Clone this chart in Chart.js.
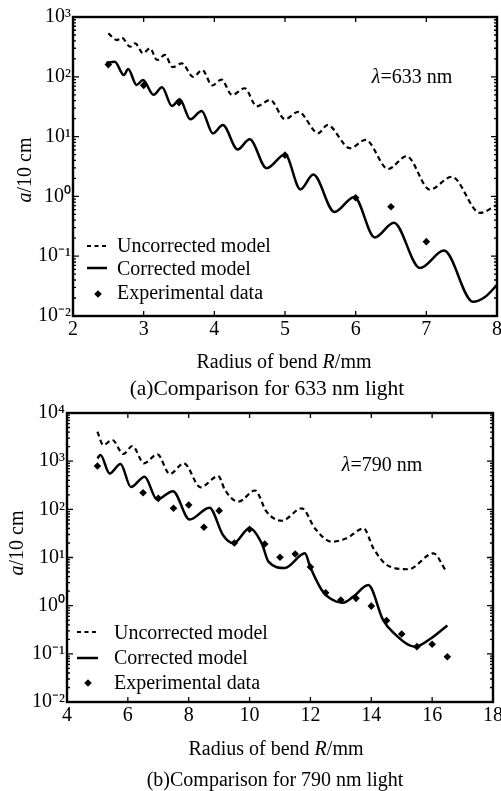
<!DOCTYPE html>
<html><head><meta charset="utf-8">
<script src="https://cdn.jsdelivr.net/npm/chart.js@4/dist/chart.umd.min.js"></script>
<style>
html,body{margin:0;padding:0;background:#fff;}
#wrap{position:relative;width:501px;height:791px;overflow:hidden;}
.box{position:absolute;left:0;width:501px;}
canvas{display:block;}
</style></head><body>
<div id="wrap">
<div class="box" style="top:0;height:400px"><canvas id="ca" width="501" height="400"></canvas></div>
<div class="box" style="top:400px;height:391px"><canvas id="cb" width="501" height="391"></canvas></div>
</div>
<script>
// ---------- Data: (a) 633 nm ----------
const aUncorrR = [2.50,2.62,2.69,2.81,2.88,2.99,3.09,3.19,3.30,3.41,3.54,3.70,3.83,3.97,4.10,4.25,4.43,4.60,4.79,5.00,5.19,5.47,5.60,5.92,6.14,6.46,6.72,7.05,7.36,7.76,8.00];
const aUncorrV = [533,412,451,318,363,247,300,191,232,145,168,100,130,71.6,90,49.7,64.3,32.1,41,19.5,26,11.4,15.6,6.4,8.8,2.87,4.7,1.30,2.13,0.53,0.72];
const aCorrR = [2.47,2.59,2.72,2.78,2.90,2.99,3.14,3.26,3.40,3.51,3.66,3.82,3.98,4.12,4.33,4.50,4.74,5.00,5.22,5.40,5.70,5.98,6.27,6.54,6.91,7.25,7.66,7.83,8.00];
const aCorrV = [170,179,107,135,73,88,50,67,32.5,42,19.5,26.8,11.3,15.6,6.1,9.0,2.95,5.0,1.31,2.32,0.55,0.98,0.206,0.363,0.0635,0.124,0.0173,0.0208,0.033];
const aExpR = [2.5,3.0,3.5,5.0,6.0,6.5,7.0];
const aExpV = [160,72,37,4.9,0.95,0.67,0.175];
const aXTicks = [2,3,4,5,6,7,8];
const aYTicks = [0.01,0.1,1,10,100,1000];

// ---------- Data: (b) 790 nm ----------
const bUncorrR = [5.00,5.19,5.49,5.85,6.15,6.53,6.97,7.38,7.84,8.39,8.97,9.19,9.63,10.18,10.56,11.06,11.72,12.15,12.70,13.19,13.75,14.07,14.56,15.22,16.04,16.45];
const bUncorrV = [4090,2166,2754,1410,2065,904,1390,542,904,287,492,252,144,246,89,58,105,40,21.3,25,40,15.5,6.7,5.7,12.2,5.3];
const bCorrR = [5.00,5.10,5.40,5.76,6.10,6.55,6.96,7.48,8.03,8.68,9.13,9.47,10.00,10.41,10.62,11.16,11.82,11.99,12.37,12.64,13.07,13.41,13.90,14.39,14.72,15.45,15.98,16.50];
const bCorrV = [1148,1343,555,874,291,476,160,238,61.5,108,29,19.7,40.4,19,8.2,6.05,12.2,6.4,2.12,1.42,1.15,1.54,2.69,0.50,0.277,0.141,0.213,0.388];
const bExpR = [5,6.5,7,7.5,8,8.5,9,9.5,10,10.5,11,11.5,12,12.5,13,13.5,14,14.5,15,15.5,16,16.5];
const bExpV = [794,221,169,105,123,42.4,94,20,38.5,19,10.1,11.8,6.35,1.86,1.31,1.42,0.98,0.49,0.258,0.141,0.158,0.087];
const bXTicks = [4,6,8,10,12,14,16,18];
const bYTicks = [0.01,0.1,1,10,100,1000,10000];

const seriesNames = ['Uncorrected model','Corrected model','Experimental data'];

// ---------- helpers ----------
const FONT = '"Liberation Serif", "Times New Roman", serif';
const SUP = {'-':'\u207B','0':'\u2070','1':'\u00B9','2':'\u00B2','3':'\u00B3','4':'\u2074','5':'\u2075'};
function powLabel(v){
  const e = Math.log10(v), r = Math.round(e);
  if (Math.abs(e - r) > 1e-6) return '';
  return '10' + String(r).split('').map(c => SUP[c]).join('');
}
const zip = (xs, ys) => xs.map((x, i) => ({x: x, y: ys[i]}));

function framePlugin(){
  return {
    id: 'frame',
    afterDraw(chart){
      const {ctx, chartArea: a, scales: {x, y}} = chart;
      ctx.save();
      ctx.strokeStyle = '#000';
      ctx.lineWidth = 1.3;
      ctx.beginPath();
      const e0 = Math.floor(Math.log10(y.min)), e1 = Math.ceil(Math.log10(y.max));
      for (let e = e0; e <= e1; e++){
        for (let k = 1; k <= 9; k++){
          const v = k * Math.pow(10, e);
          if (v < y.min * 0.999 || v > y.max * 1.001) continue;
          const p = y.getPixelForValue(v);
          const L = k === 1 ? 6 : 3;
          ctx.moveTo(a.left, p); ctx.lineTo(a.left + L, p);
          ctx.moveTo(a.right, p); ctx.lineTo(a.right - L, p);
        }
      }
      x.ticks.forEach(t => {
        const p = x.getPixelForValue(t.value);
        ctx.moveTo(p, a.bottom); ctx.lineTo(p, a.bottom - 5);
        ctx.moveTo(p, a.top); ctx.lineTo(p, a.top + 5);
      });
      ctx.stroke();
      ctx.lineWidth = 2.4;
      ctx.strokeRect(a.left, a.top, a.right - a.left, a.bottom - a.top);
      ctx.restore();
    }
  };
}

function textPlugin(items){
  return {
    id: 'richText',
    afterDraw(chart){
      const ctx = chart.ctx;
      items.forEach(it => {
        ctx.save();
        ctx.translate(it.x, it.y);
        if (it.rot) ctx.rotate(it.rot);
        ctx.fillStyle = '#000';
        ctx.textBaseline = 'alphabetic';
        ctx.textAlign = 'left';
        const segs = it.segs.map(s => ({t: s[0], f: (s[1] ? 'italic ' : '') + it.size + 'px ' + FONT}));
        let w = 0;
        segs.forEach(s => { ctx.font = s.f; s.w = ctx.measureText(s.t).width; w += s.w; });
        let xx = -w / 2;
        segs.forEach(s => { ctx.font = s.f; ctx.fillText(s.t, xx, 0); xx += s.w; });
        ctx.restore();
      });
    }
  };
}

function legendPlugin(cfg){
  return {
    id: 'innerLegend',
    afterDraw(chart){
      const ctx = chart.ctx;
      const ds = chart.data.datasets;
      ctx.save();
      ctx.fillStyle = '#000'; ctx.strokeStyle = '#000';
      ctx.font = '20px ' + FONT;
      ctx.textBaseline = 'middle'; ctx.textAlign = 'left';
      ds.forEach((d, i) => {
        const ly = cfg.lineY[i];
        if (d.showLine){
          ctx.beginPath();
          ctx.lineWidth = d.borderWidth;
          ctx.setLineDash(d.borderDash && d.borderDash.length ? [4, 3.5] : []);
          ctx.moveTo(cfg.x0, ly); ctx.lineTo(cfg.x1, ly);
          ctx.stroke();
          ctx.setLineDash([]);
        } else {
          const r = d.pointRadius;
          ctx.beginPath();
          ctx.moveTo(cfg.mx, ly - r); ctx.lineTo(cfg.mx + r, ly);
          ctx.lineTo(cfg.mx, ly + r); ctx.lineTo(cfg.mx - r, ly);
          ctx.closePath(); ctx.fill();
        }
        ctx.fillText(d.label, cfg.tx, cfg.textY[i]);
      });
      ctx.restore();
    }
  };
}

function makeChart(canvasId, o){
  const W = o.W, H = o.H, A = o.area;
  const datasets = [
    {label: seriesNames[0], data: zip(o.uR, o.uV), showLine: true, borderColor: '#000', borderWidth: 2.2,
     borderDash: [5, 3.5], pointRadius: 0, tension: 0.4, cubicInterpolationMode: 'monotone', fill: false},
    {label: seriesNames[1], data: zip(o.cR, o.cV), showLine: true, borderColor: '#000', borderWidth: 2.5,
     pointRadius: 0, tension: 0.4, cubicInterpolationMode: 'monotone', fill: false},
    {label: seriesNames[2], data: zip(o.eR, o.eV), showLine: false, pointStyle: 'rectRot',
     pointRadius: 3.8, backgroundColor: '#000', borderColor: '#000', borderWidth: 0}
  ];
  return new Chart(document.getElementById(canvasId), {
    type: 'scatter',
    data: {datasets},
    options: {
      responsive: false, animation: false, events: [],
      layout: {padding: {left: 0, top: A.top, right: W - A.right, bottom: 0}},
      plugins: {legend: {display: false}, tooltip: {enabled: false}},
      scales: {
        x: {
          type: 'linear', min: o.xTicks[0], max: o.xTicks[o.xTicks.length - 1],
          grid: {display: false, drawTicks: false, tickLength: 0},
          border: {display: false},
          afterBuildTicks: s => { s.ticks = o.xTicks.map(v => ({value: v})); },
          afterFit: s => { s.height = H - A.bottom; s.paddingLeft = 0; s.paddingRight = 0; },
          ticks: {autoSkip: false, maxRotation: 0, padding: 2, color: '#000',
                  font: {family: FONT, size: 20}, callback: v => String(v)}
        },
        y: {
          type: 'logarithmic', min: o.yTicks[0], max: o.yTicks[o.yTicks.length - 1],
          grid: {display: false, drawTicks: false, tickLength: 0},
          border: {display: false},
          afterBuildTicks: s => { s.ticks = o.yTicks.map(v => ({value: v, major: true})); },
          afterFit: s => { s.width = A.left; s.paddingTop = 0; s.paddingBottom = 0; },
          ticks: {autoSkip: false, padding: 2, color: '#000',
                  font: {family: FONT, size: 20}, callback: v => powLabel(v)}
        }
      }
    },
    plugins: [framePlugin(), legendPlugin(o.legend), textPlugin(o.texts)]
  });
}

makeChart('ca', {
  W: 501, H: 400, area: {left: 73, top: 17, right: 497, bottom: 316},
  uR: aUncorrR, uV: aUncorrV, cR: aCorrR, cV: aCorrV, eR: aExpR, eV: aExpV,
  xTicks: aXTicks, yTicks: aYTicks,
  legend: {x0: 87, x1: 107, mx: 98, tx: 117, lineY: [246, 268, 294], textY: [247, 270, 294]},
  texts: [
    {segs: [['\u03BB', true], ['=633 nm', false]], x: 412, y: 83, size: 20},
    {segs: [['Radius of bend ', false], ['R', true], ['/mm', false]], x: 284, y: 368, size: 20},
    {segs: [['(a)Comparison for 633 nm light', false]], x: 267, y: 395, size: 21.5},
    {segs: [['a', true], ['/10 cm', false]], x: 31, y: 170, size: 20, rot: -Math.PI / 2}
  ]
});

makeChart('cb', {
  W: 501, H: 391, area: {left: 67, top: 13, right: 493, bottom: 302},
  uR: bUncorrR, uV: bUncorrV, cR: bCorrR, cV: bCorrV, eR: bExpR, eV: bExpV,
  xTicks: bXTicks, yTicks: bYTicks,
  legend: {x0: 77, x1: 98, mx: 88, tx: 114, lineY: [232, 258, 283], textY: [234, 259, 284]},
  texts: [
    {segs: [['\u03BB', true], ['=790 nm', false]], x: 382, y: 71, size: 20},
    {segs: [['Radius of bend ', false], ['R', true], ['/mm', false]], x: 276, y: 355, size: 20},
    {segs: [['(b)Comparison for 790 nm light', false]], x: 275, y: 386, size: 20},
    {segs: [['a', true], ['/10 cm', false]], x: 23, y: 143, size: 20, rot: -Math.PI / 2}
  ]
});
</script>
</body></html>
